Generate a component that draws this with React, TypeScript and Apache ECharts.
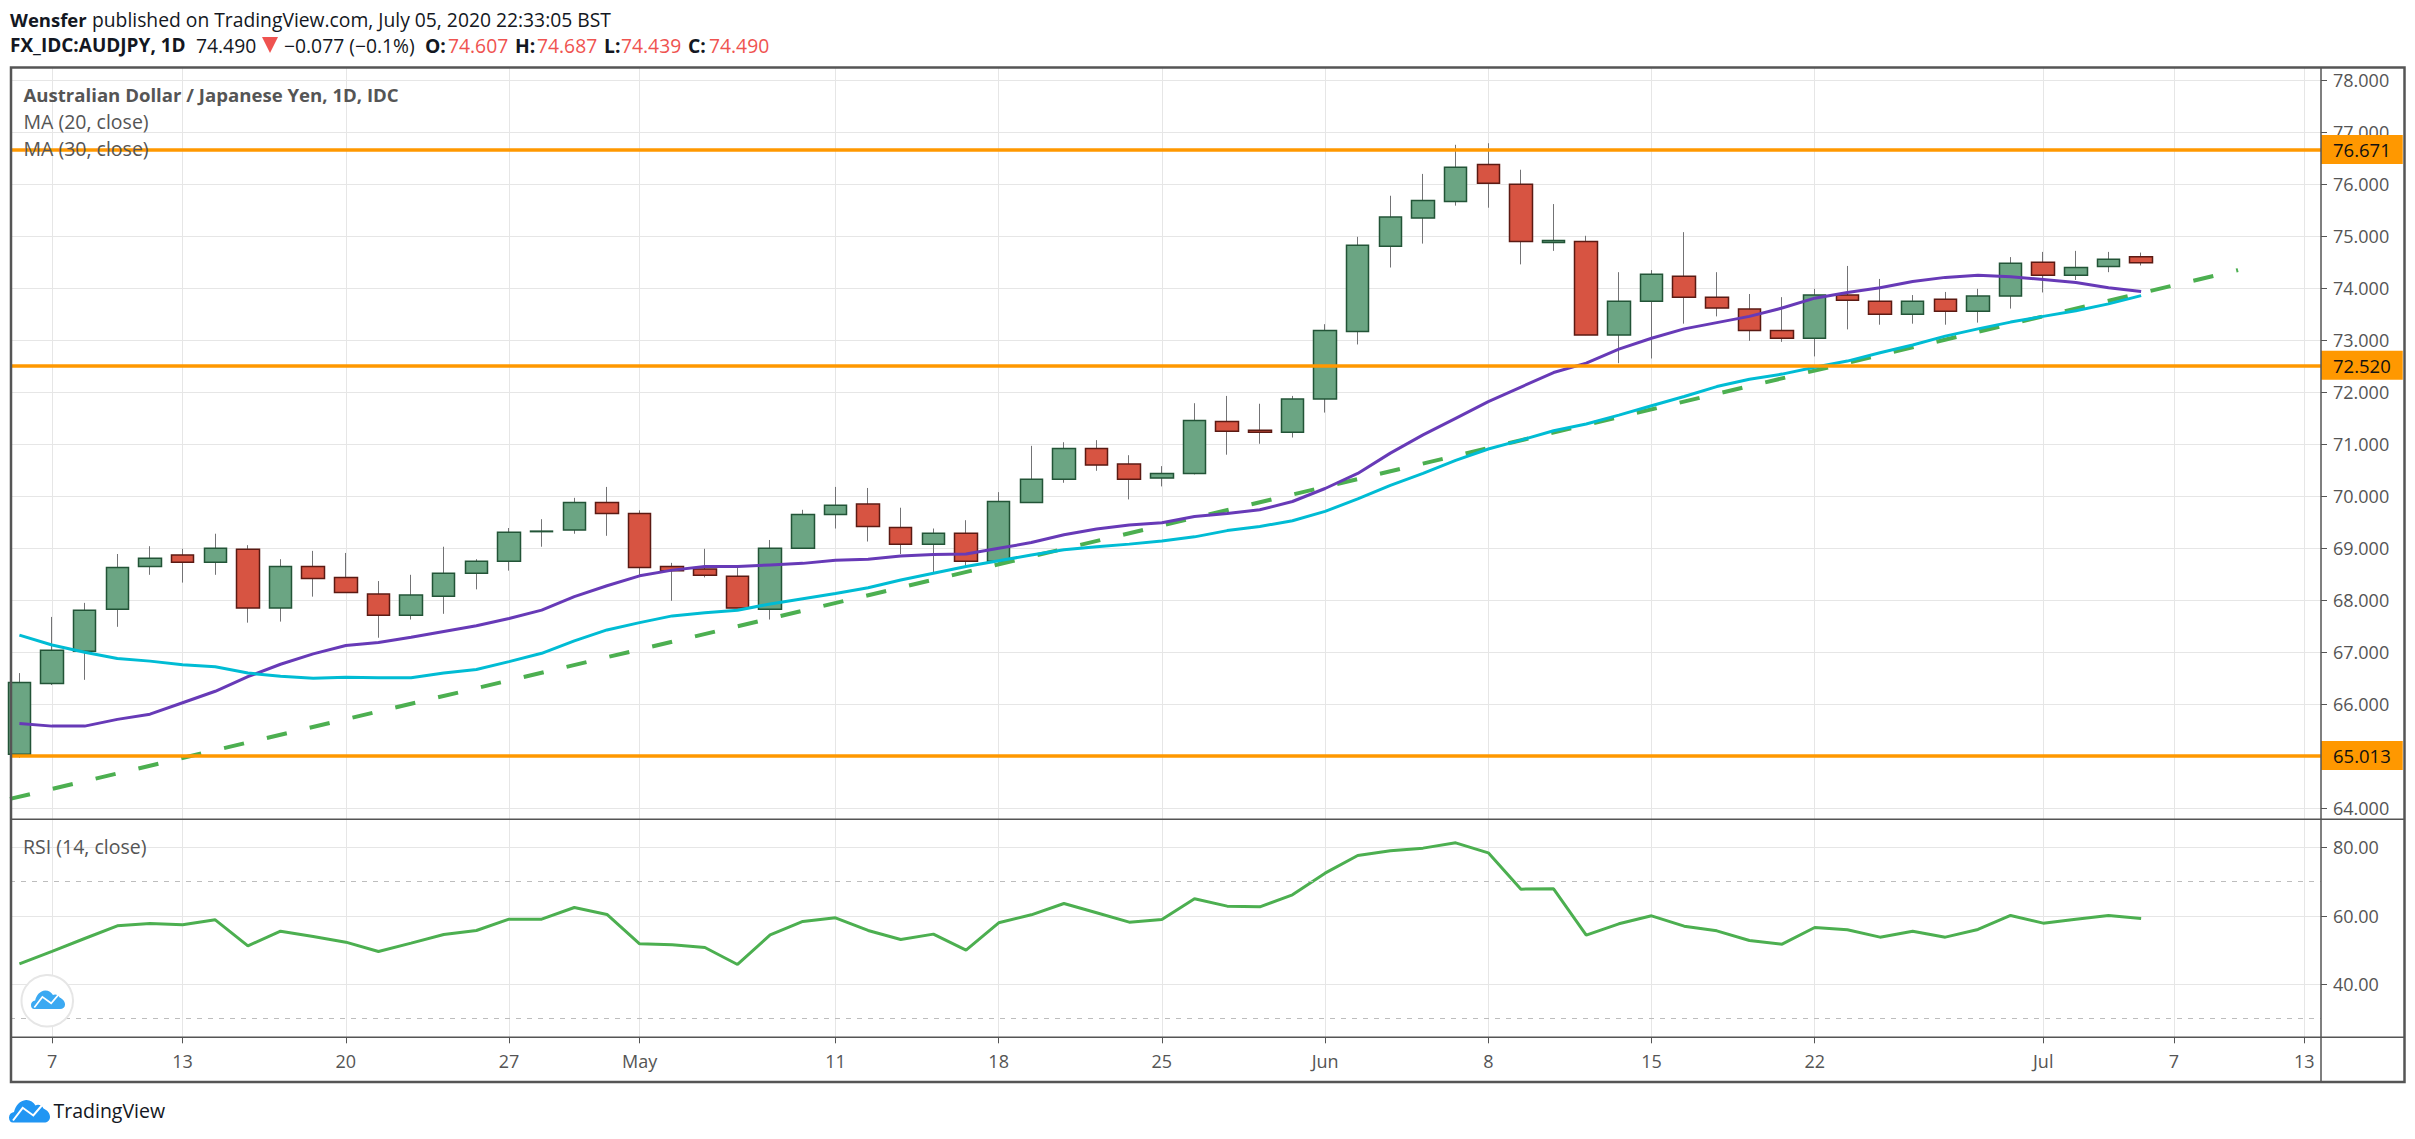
import React, { useEffect, useRef } from "react";
import * as echarts from "echarts";

const FONT = '"Open Sans", "Noto Sans", sans-serif';

const opens = [65.04,66.40,67.02,67.83,68.65,68.87,68.73,68.98,67.85,68.65,68.44,68.12,67.71,68.08,68.52,68.75,69.32,69.35,69.88,69.67,68.65,68.60,68.46,67.83,69.00,69.65,69.85,69.40,69.08,69.29,68.75,69.88,70.33,70.92,70.62,70.35,70.44,71.44,71.27,71.23,71.87,73.17,74.81,75.35,75.67,76.38,76.00,74.88,74.90,73.10,73.75,74.23,73.83,73.60,73.19,73.04,73.87,73.75,73.50,73.79,73.56,73.85,74.50,74.25,74.42,74.607];
const closes = [66.42,67.04,67.81,68.63,68.81,68.73,69.00,67.85,68.65,68.42,68.15,67.71,68.10,68.52,68.75,69.31,69.33,69.88,69.67,68.63,68.57,68.48,67.85,69.00,69.65,69.83,69.42,69.08,69.29,68.75,69.90,70.33,70.92,70.60,70.33,70.44,71.46,71.25,71.23,71.87,73.19,74.83,75.37,75.69,76.33,76.02,74.90,74.92,73.10,73.75,74.27,73.83,73.62,73.19,73.04,73.87,73.77,73.50,73.75,73.56,73.85,74.48,74.25,74.40,74.56,74.49];
const lows = [64.97,66.37,66.47,67.49,68.49,68.34,68.49,67.57,67.59,68.07,68.15,67.28,67.63,67.74,68.21,68.57,69.03,69.28,69.24,68.48,67.99,68.44,67.85,67.63,69.00,69.38,69.13,68.89,68.54,68.65,68.70,69.88,70.26,70.49,69.94,70.19,70.42,70.80,71.01,71.13,71.61,72.92,74.40,74.86,75.59,75.55,74.46,74.72,73.10,72.56,72.65,73.32,73.46,72.99,72.97,72.69,73.21,73.30,73.32,73.30,73.34,73.61,73.92,74.16,74.31,74.439];
const highs = [66.60,67.68,67.95,68.89,69.04,68.99,69.28,69.06,68.79,68.95,68.91,68.37,68.49,69.03,68.79,69.39,69.56,69.97,70.18,69.73,68.72,68.99,68.62,69.16,69.74,70.18,70.16,69.78,69.38,69.54,70.08,70.97,71.04,71.08,70.79,70.58,71.79,71.93,71.78,71.93,73.31,74.99,75.78,76.20,76.76,76.79,76.28,75.62,75.01,74.31,74.35,75.08,74.31,73.89,73.83,73.99,74.43,74.18,73.87,73.93,73.99,74.60,74.70,74.72,74.70,74.687];
const ma20 = [65.63,65.58,65.58,65.71,65.81,66.03,66.25,66.53,66.77,66.97,67.13,67.19,67.29,67.40,67.51,67.65,67.81,68.07,68.28,68.47,68.58,68.65,68.65,68.68,68.71,68.77,68.79,68.85,68.88,68.89,69.00,69.11,69.26,69.37,69.45,69.49,69.61,69.67,69.74,69.90,70.15,70.44,70.83,71.18,71.50,71.82,72.10,72.38,72.56,72.83,73.04,73.22,73.34,73.46,73.62,73.81,73.92,74.01,74.13,74.21,74.25,74.22,74.17,74.11,74.01,73.94];
const ma30 = [67.33,67.14,67.00,66.88,66.83,66.76,66.72,66.60,66.54,66.50,66.52,66.51,66.51,66.60,66.67,66.82,66.98,67.22,67.43,67.57,67.70,67.76,67.81,67.93,68.03,68.13,68.24,68.39,68.52,68.65,68.76,68.87,68.97,69.03,69.08,69.14,69.22,69.34,69.42,69.53,69.71,69.95,70.21,70.44,70.69,70.91,71.08,71.26,71.39,71.56,71.74,71.92,72.11,72.25,72.35,72.48,72.60,72.76,72.91,73.08,73.22,73.35,73.46,73.57,73.70,73.86];
const rsi = [45.99,49.59,53.38,57.08,57.76,57.37,58.83,51.24,55.52,53.97,52.31,49.59,52.02,54.55,55.72,59.03,59.03,62.43,60.39,51.82,51.53,50.75,45.79,54.45,58.35,59.42,55.72,53.09,54.65,49.98,57.96,60.29,63.60,60.88,58.15,58.93,64.96,62.82,62.63,66.13,72.46,77.62,78.98,79.76,81.31,78.39,67.79,67.88,54.36,57.66,60.00,56.98,55.62,52.80,51.73,56.59,55.91,53.77,55.52,53.77,56.01,60.10,57.86,59.03,60.10,59.22];
const trendStart = [-0.288, 64.18];
const trendEnd = [67.97, 74.35];
const levels = [76.671, 72.52, 65.013];
const rsiBands = [70, 30];
const priceTicks = [64,65,66,67,68,69,70,71,72,73,74,75,76,77,78];
const priceLabels = [64,66,67,68,69,70,71,72,73,74,75,76,77,78];
const rsiTicks = [40,60,80];
const dateTickIdx = [1,5,10,15,19,25,30,35,40,45,50,55,62,66,70];
const dateTickLabels = ["7","13","20","27","May","11","18","25","Jun","8","15","22","Jul","7","13"];

const X_MIN = -0.288;
const X_MAX = 70.51;

const CLOUD = "M4 23C1.5 23 0 21 0 18C0 15 2 13 5 12.5C6.5 6 11 1 17 0.5C21 0.3 24.5 2.5 26.5 6C29 4.5 33 5.5 34.5 9C38 10.5 41 13.5 41 17.5C41 21 38.5 23 35 23Z";
echarts.graphic.registerShape("tvCloud", echarts.graphic.extendPath(CLOUD, {}) as any);

const txt = (x: number, y: number, text: string, fill: string, weight = 400, size = 19.3) => ({
  type: "text", x, y, silent: true, z: 50,
  style: { text, fill, font: `${weight} ${size}px ${FONT}`, verticalAlign: "middle", align: "left" },
});

const logo = (x: number, y: number, s: number, fill: string) => ({
  type: "group", x, y, scaleX: s, scaleY: s, z: 50, silent: true,
  children: [
    { type: "tvCloud", z: 50, style: { fill } },
    { type: "polyline", z: 51, shape: { points: [[4, 21], [13.7, 8.3], [24.3, 16], [33.7, 5]] }, style: { stroke: "#fff", lineWidth: 2, fill: null } },
  ],
});

export default function App() {
  const ref = useRef<HTMLDivElement>(null);
  useEffect(() => {
    document.body.style.margin = "0";
    const chart = echarts.init(ref.current!, undefined, { renderer: "svg" });
    const xs = opens.map((_, i) => i);
    const wickData = xs.map((i) => [i, opens[i], closes[i], lows[i], highs[i]]);
    const bodyData = xs.map((i) => [i, opens[i], closes[i], Math.min(opens[i], closes[i]), Math.max(opens[i], closes[i])]);
    const labelFor = (v: number) => dateTickLabels[dateTickIdx.indexOf(v)] ?? "";
    const common = { type: "value", min: X_MIN, max: X_MAX, splitArea: { show: false } };
    const gridLine = { show: true, lineStyle: { color: "#E6E6E6", width: 1 } };
    const noLine = { show: false, onZero: false };
    chart.setOption({
      animation: false,
      backgroundColor: "#fff",
      textStyle: { fontFamily: FONT },
      grid: [
        { left: 10, width: 2311, top: 67, height: 752.3, show: false },
        { left: 10, width: 2311, top: 819.3, height: 218, show: false },
      ],
      xAxis: [
        { ...common, gridIndex: 0, position: "bottom", axisLine: noLine, axisTick: { show: false, customValues: dateTickIdx }, axisLabel: { show: false, customValues: dateTickIdx }, splitLine: gridLine },
        {
          ...common, gridIndex: 1, position: "bottom", axisLine: noLine,
          axisTick: { show: true, length: 6, lineStyle: { color: "#555" }, customValues: dateTickIdx },
          axisLabel: { show: true, margin: 15, color: "#555", fontSize: 18, fontFamily: FONT, customValues: dateTickIdx, formatter: (v: number) => labelFor(v), hideOverlap: false, showMinLabel: true, showMaxLabel: true },
          splitLine: gridLine,
        },
      ],
      yAxis: [
        {
          type: "value", gridIndex: 0, position: "right", min: 63.788, max: 78.256, scale: true, axisLine: noLine,
          axisTick: { show: true, length: 6, lineStyle: { color: "#555" }, customValues: priceTicks },
          axisLabel: { show: true, margin: 12, color: "#555", fontSize: 18, fontFamily: FONT, customValues: priceLabels, formatter: (v: number) => v.toFixed(3) },
          splitLine: gridLine,
        },
        {
          type: "value", gridIndex: 1, position: "right", min: 24.53, max: 88.18, axisLine: noLine,
          axisTick: { show: true, length: 6, lineStyle: { color: "#555" }, customValues: rsiTicks },
          axisLabel: { show: true, margin: 12, color: "#555", fontSize: 18, fontFamily: FONT, customValues: rsiTicks, formatter: (v: number) => v.toFixed(2) },
          splitLine: gridLine,
        },
      ],
      series: [
        {
          type: "line", name: "Trend", xAxisIndex: 0, yAxisIndex: 0, data: [trendStart, trendEnd], showSymbol: false, silent: true,
          lineStyle: { color: "#4CAF50", width: 4, type: [20.5, 23.5] },
        },
        { type: "line", name: "MA 20", xAxisIndex: 0, yAxisIndex: 0, data: xs.map((i) => [i, ma20[i]]), showSymbol: false, silent: true, lineStyle: { color: "#673AB7", width: 3 } },
        { type: "line", name: "MA 30", xAxisIndex: 0, yAxisIndex: 0, data: xs.map((i) => [i, ma30[i]]), showSymbol: false, silent: true, lineStyle: { color: "#00BCD4", width: 3 } },
        {
          type: "candlestick", name: "Wicks", xAxisIndex: 0, yAxisIndex: 0, data: wickData, barWidth: 1, silent: true, clip: true,
          encode: { x: 0, y: [1, 2, 3, 4] },
          itemStyle: { color: "#737375", color0: "#737375", borderColor: "#737375", borderColor0: "#737375", borderColorDoji: "#737375", borderWidth: 1 },
        },
        {
          type: "candlestick", name: "AUDJPY", xAxisIndex: 0, yAxisIndex: 0, data: bodyData, barWidth: 23, silent: true, clip: true,
          encode: { x: 0, y: [1, 2, 3, 4] },
          itemStyle: { color: "#6BA583", color0: "#D75442", borderColor: "#225437", borderColor0: "#5B1A13", borderColorDoji: "#225437", borderWidth: 1.5 },
        },
        {
          type: "line", name: "Levels", xAxisIndex: 0, yAxisIndex: 0, data: [], silent: true,
          markLine: {
            silent: true, symbol: "none", animation: false, precision: 3,
            lineStyle: { color: "#FF9800", width: 3.5, type: "solid" },
            label: {
              show: true, position: "end", distance: 0, formatter: (p: any) => levels[p.dataIndex].toFixed(3),
              backgroundColor: "#FF9800", color: "#111", fontSize: 18.5, fontFamily: FONT, padding: [5, 12, 5, 12], borderRadius: 0,
            },
            data: levels.map((v) => ({ yAxis: v })),
          },
        },
        { type: "line", name: "RSI", xAxisIndex: 1, yAxisIndex: 1, data: xs.map((i) => [i, rsi[i]]), showSymbol: false, silent: true, lineStyle: { color: "#4CAF50", width: 3 },
          markLine: {
            silent: true, symbol: "none", animation: false, label: { show: false },
            lineStyle: { color: "#BDBDBD", width: 1.2, type: [5, 6] },
            data: rsiBands.map((v) => ({ yAxis: v })),
          },
        },
      ],
      graphic: [
        { type: "rect", z: 40, silent: true, shape: { x: 11, y: 67.5, width: 2393.5, height: 1014.5 }, style: { fill: "none", stroke: "#555", lineWidth: 2.5 } },
        { type: "line", z: 40, silent: true, shape: { x1: 10, y1: 819.3, x2: 2405, y2: 819.3 }, style: { stroke: "#555", lineWidth: 1.5 } },
        { type: "line", z: 40, silent: true, shape: { x1: 10, y1: 1037.3, x2: 2405, y2: 1037.3 }, style: { stroke: "#555", lineWidth: 1.5 } },
        { type: "line", z: 40, silent: true, shape: { x1: 2321, y1: 67, x2: 2321, y2: 1082 }, style: { stroke: "#555", lineWidth: 1.5 } },
        txt(10, 19.5, "Wensfer", "#131722", 700, 18.5),
        txt(92, 19.5, "published on TradingView.com, July 05, 2020 22:33:05 BST", "#131722"),
        txt(10, 45, "FX_IDC:AUDJPY, 1D", "#131722", 700, 19),
        txt(196, 45, "74.490", "#131722"),
        { type: "polygon", z: 50, silent: true, shape: { points: [[262, 37], [278, 37], [270, 53]] }, style: { fill: "#EF5350" } },
        txt(284, 45, "−0.077 (−0.1%)", "#131722"),
        txt(425, 45, "O:", "#131722", 700),
        txt(448, 45, "74.607", "#EF5350"),
        txt(515, 45, "H:", "#131722", 700),
        txt(537, 45, "74.687", "#EF5350"),
        txt(604, 45, "L:", "#131722", 700),
        txt(621, 45, "74.439", "#EF5350"),
        txt(688, 45, "C:", "#131722", 700),
        txt(709, 45, "74.490", "#EF5350"),
        txt(23.5, 94.7, "Australian Dollar / Japanese Yen, 1D, IDC", "#555", 700, 18.6),
        txt(23.5, 121.7, "MA (20, close)", "#555", 400, 19.5),
        txt(23.5, 148.7, "MA (30, close)", "#555", 400, 19.5),
        txt(23, 846.7, "RSI (14, close)", "#555", 400, 19.5),
        { type: "circle", z: 45, silent: true, shape: { cx: 47.3, cy: 1000.7, r: 25.8 }, style: { fill: "#fff", stroke: "#E6E6E6", lineWidth: 2 } },
        logo(31, 990, 0.83, "#3BA9F2"),
        logo(9, 1099.5, 1, "#2196F3"),
        txt(53.5, 1110.7, "TradingView", "#131722", 400, 19.5),
      ],
    });
    return () => chart.dispose();
  }, []);
  return <div ref={ref} style={{ position: "absolute", left: 0, top: 0, width: 2415, height: 1139, background: "#fff" }} />;
}
